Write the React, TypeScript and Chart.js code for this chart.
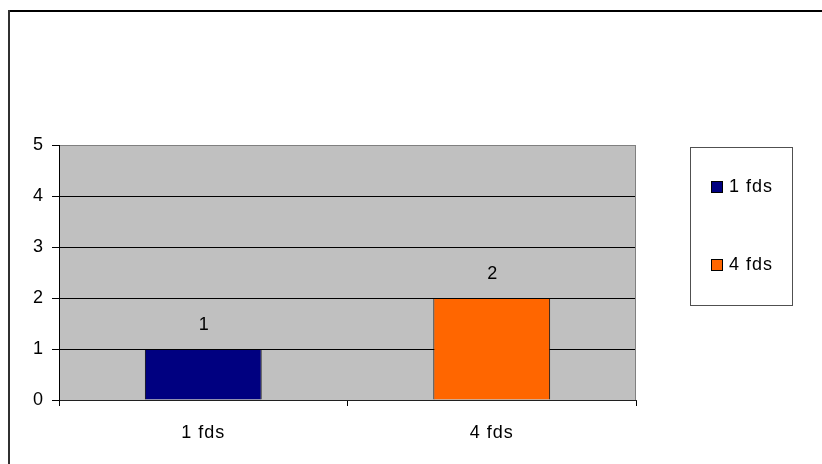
import React, { useEffect, useRef } from "react";
import { Chart, registerables } from "chart.js";

Chart.register(...registerables);

const categories = ["1 fds", "4 fds"];
const values = [1, 2];
const barColors = ["#000080", "#FF6600"];
const yMin = 0;
const yMax = 5;
const yStep = 1;

const FONT = '"Liberation Sans", Arial, sans-serif';
const FONT_SIZE = 18;
const SPACING = "1px";

// Gray plot background, outer frame, right plot edge, value labels and legend.
const decorPlugin = {
  id: "decor",
  beforeDraw(chart: any) {
    const { ctx, chartArea } = chart;
    ctx.save();
    ctx.fillStyle = "#FFFFFF";
    ctx.fillRect(0, 0, chart.width, chart.height);
    ctx.fillStyle = "#C0C0C0";
    ctx.fillRect(chartArea.left, chartArea.top, chartArea.right - chartArea.left, chartArea.bottom - chartArea.top);
    // outer frame (left and top edges)
    ctx.fillStyle = "#000000";
    ctx.fillRect(8, 10, chart.width - 8, 2);
    ctx.fillStyle = "#303030";
    ctx.fillRect(8, 10, 2, chart.height - 10);
    ctx.restore();
    (ctx as any).letterSpacing = SPACING;
  },
  afterDatasetsDraw(chart: any) {
    const { ctx, chartArea } = chart;
    ctx.save();
    // right edge of plot area
    ctx.strokeStyle = "#808080";
    ctx.lineWidth = 1;
    ctx.beginPath();
    ctx.moveTo(Math.round(chartArea.right) - 0.5, chartArea.top);
    ctx.lineTo(Math.round(chartArea.right) - 0.5, chartArea.bottom);
    ctx.stroke();

    // value labels above bars
    ctx.fillStyle = "#000";
    ctx.font = `${FONT_SIZE}px ${FONT}`;
    (ctx as any).letterSpacing = SPACING;
    ctx.textAlign = "center";
    ctx.textBaseline = "middle";
    const meta = chart.getDatasetMeta(0);
    meta.data.forEach((bar: any, i: number) => {
      ctx.fillText(String(values[i]), bar.x + 1, bar.y - 24);
    });

    // legend box
    const lx = 690, ly = 147, lw = 103, lh = 159;
    ctx.strokeStyle = "#505050";
    ctx.lineWidth = 1;
    ctx.strokeRect(lx + 0.5, ly + 0.5, lw - 1, lh - 1);
    const rows = [187, 265];
    categories.forEach((c, i) => {
      const cy = rows[i];
      ctx.fillStyle = barColors[i];
      ctx.fillRect(711, cy - 6, 11, 11);
      ctx.strokeStyle = "#000";
      ctx.strokeRect(711.5, cy - 5.5, 11, 11);
      ctx.fillStyle = "#000";
      ctx.textAlign = "left";
      ctx.fillText(c, 729, cy);
    });
    ctx.restore();
  },
};

export default function App() {
  const canvasRef = useRef<HTMLCanvasElement | null>(null);

  useEffect(() => {
    const canvas = canvasRef.current;
    if (!canvas) return;
    const chart = new Chart(canvas, {
      type: "bar",
      data: {
        labels: categories,
        datasets: [
          {
            data: values,
            backgroundColor: barColors,
            borderColor: "#000000",
            borderWidth: 1,
            categoryPercentage: 1,
            barPercentage: 0.405,
          },
        ],
      },
      options: {
        responsive: false,
        animation: false,
        layout: { padding: { left: 0, top: 145, right: 186, bottom: 0 } },
        plugins: {
          legend: { display: false },
          tooltip: { enabled: false },
        },
        scales: {
          x: {
            grid: {
              offset: true,
              drawOnChartArea: false,
              drawTicks: true,
              tickLength: 6,
              color: "#000000",
            },
            border: { color: "#202020", width: 1 },
            ticks: {
              color: "#000000",
              font: { family: FONT, size: FONT_SIZE },
              padding: 16,
            },
            afterFit: (s: any) => {
              s.height = 64;
            },
          },
          y: {
            min: yMin,
            max: yMax,
            ticks: {
              stepSize: yStep,
              color: "#000000",
              font: { family: FONT, size: FONT_SIZE },
              padding: 8,
            },
            grid: {
              color: (c: any) => (c.tick && c.tick.value === yMax ? "#808080" : "#000000"),
              tickColor: "#000000",
              tickLength: 7,
              lineWidth: 1,
            },
            border: { color: "#000000", width: 1 },
            afterFit: (s: any) => {
              s.width = 59;
            },
          },
        },
      },
      plugins: [decorPlugin],
    });
    return () => chart.destroy();
  }, []);

  return (
    <canvas
      ref={canvasRef}
      width={822}
      height={464}
      style={{ position: "absolute", left: 0, top: 0, width: 822, height: 464 }}
    />
  );
}
